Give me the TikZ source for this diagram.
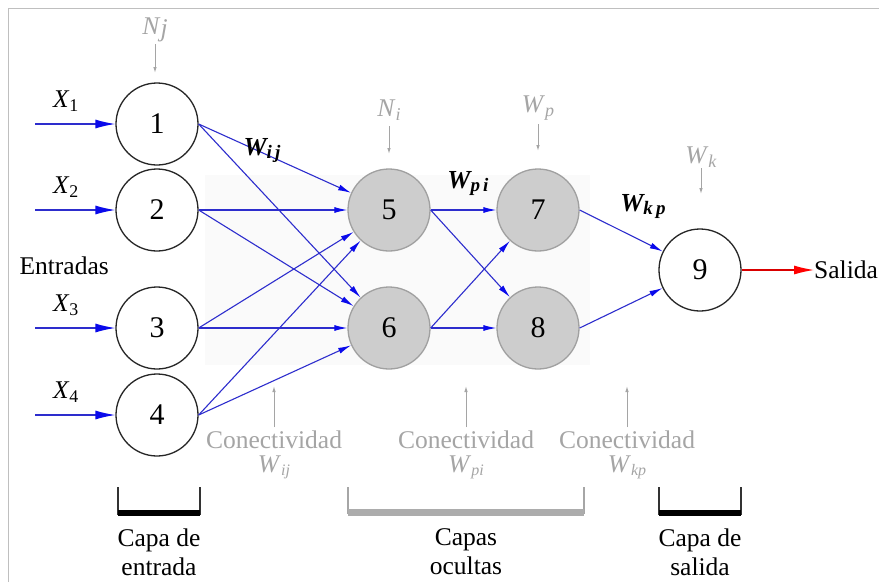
\documentclass[tikz,border=0pt]{standalone}
\usepackage{fontspec}
\setmainfont{Liberation Serif}
\usetikzlibrary{arrows.meta}
\definecolor{lnblue}{RGB}{45,45,205}
\definecolor{tipblue}{RGB}{10,10,235}
\definecolor{hidfill}{RGB}{205,205,205}
\definecolor{hidline}{RGB}{160,160,160}
\definecolor{lblgray}{RGB}{165,165,165}
\begin{document}
\begin{tikzpicture}[x=1pt,y=-1pt,
  every node/.style={font=\fontsize{25.5}{29}\selectfont},
  inode/.style={circle,draw=black!85,line width=1.3pt,fill=white,minimum size=82pt,inner sep=0pt,font=\fontsize{30}{32}\selectfont},
  hnode/.style={circle,draw=hidline,line width=1.3pt,fill=hidfill,minimum size=82pt,inner sep=0pt,font=\fontsize{30}{32}\selectfont},
  conn/.style={draw=lnblue,line width=1.1pt,-{Latex[length=13pt,width=6pt,color=tipblue]}},
  inarrow/.style={draw=lnblue,line width=1.3pt,-{Latex[length=20pt,width=9pt,color=tipblue]}},
  garrow/.style={draw=lblgray,line width=1pt,-{Latex[length=6pt,width=3.5pt]}},
  glabel/.style={text=lblgray,inner sep=0pt,font=\fontsize{25.5}{29}\selectfont},
  wlabel/.style={font=\fontsize{26}{29}\selectfont\bfseries\itshape}
]
\useasboundingbox (0,0) rectangle (879,582);
\fill[white] (0,0) rectangle (879,582);
% faint shading behind hidden layers
\fill[gray!4] (205,175) -- (590,175) -- (590,365) -- (205,365) -- cycle;
% frame lines
\draw[gray!50,line width=1pt] (8,582) -- (8,8) -- (879,8);

% nodes
\node[inode] (n1) at (157,124) {1};
\node[inode] (n2) at (157,210) {2};
\node[inode] (n3) at (157,328) {3};
\node[inode] (n4) at (157,415) {4};
\node[hnode] (n5) at (389,210) {5};
\node[hnode] (n6) at (389,328) {6};
\node[hnode] (n7) at (538,210) {7};
\node[hnode] (n8) at (538,328) {8};
\node[inode] (n9) at (700,270) {9};

% input arrows
\foreach \i/\y in {1/124,2/210,3/328,4/415}{
  \coordinate (s\i) at (35,\y);
  \draw[inarrow] (s\i) -- (n\i.west);
}
\node at (66,101) {\textit{X}\textsubscript{1}};
\node at (66,187) {\textit{X}\textsubscript{2}};
\node at (66,305) {\textit{X}\textsubscript{3}};
\node at (66,392) {\textit{X}\textsubscript{4}};
\node[anchor=west] (entr) at (16,266) {Entradas};

% connections input -> hidden 1
\foreach \a in {1,2,3,4}{
  \foreach \b in {5,6}{
    \draw[conn] (n\a.east) -- (n\b);
  }
}
% hidden 1 -> hidden 2
\foreach \a in {5,6}{
  \foreach \b in {7,8}{
    \draw[conn] (n\a.east) -- (n\b);
  }
}
% hidden 2 -> output
\draw[conn] (n7.east) -- (n9);
\draw[conn] (n8.east) -- (n9);
% output arrow
\coordinate (outend) at (814,270);
\draw[draw=red!85!black,line width=1.2pt,-{Latex[length=20pt,width=9pt,color=red]}] (n9.east) -- (outend);
\node[anchor=west,inner sep=0pt] (sal) at (outend) {Salida};

% weight labels
\node[wlabel] at (262,151) {W\raisebox{-3pt}{\fontsize{19}{21}\selectfont i\,j}};
\node[wlabel] at (468,184) {W\raisebox{-3pt}{\fontsize{19}{21}\selectfont p\,i}};
\node[wlabel] at (643,207) {W\raisebox{-3pt}{\fontsize{19}{21}\selectfont k\,p}};

% top gray labels and arrows
\node[glabel] (lNj) at (155,30) {\textit{N}\raisebox{-2pt}{\textit{j}}};
\coordinate (aNj) at (155,44); \coordinate (bNj) at (155,73);
\draw[garrow] (aNj) -- (bNj);
\node[glabel] (lNi) at (389,110) {\textit{N}\raisebox{-4pt}{\fontsize{18}{20}\selectfont\textit{i}}};
\coordinate (aNi) at (389,126); \coordinate (bNi) at (389,154);
\draw[garrow] (aNi) -- (bNi);
\node[glabel] (lWp) at (538,108) {\textit{W}\raisebox{-4pt}{\fontsize{18}{20}\selectfont\textit{p}}};
\coordinate (aWp) at (538,124); \coordinate (bWp) at (538,151);
\draw[garrow] (aWp) -- (bWp);
\node[glabel] (lWk) at (701,157) {\textit{W}\raisebox{-4pt}{\fontsize{18}{20}\selectfont\textit{k}}};
\coordinate (aWk) at (701,168); \coordinate (bWk) at (701,194);
\draw[garrow] (aWk) -- (bWk);

% connectivity labels
\foreach \x/\s/\n in {274/ij/c1,466/pi/c2,627/kp/c3}{
  \node[glabel] (\n) at (\x,440) {Conectividad};
  \node[glabel] at (\x,467) {\textit{W}\raisebox{-3pt}{\fontsize{16}{18}\selectfont\textit{\s}}};
  \coordinate (\n b) at (\x,427);
  \coordinate (\n t) at (\x,386);
  \draw[garrow] (\n b) -- (\n t);
}

% brackets
\draw[black!80,line width=1.2pt] (118,487) -- (118,514) -- (200,514) -- (200,487);
\fill[black] (118,510) rectangle (200,516);
\draw[gray!70,line width=1.2pt] (348,487) -- (348,513) -- (584,513) -- (584,487);
\fill[gray!65] (348,509) rectangle (584,516);
\draw[black!80,line width=1.2pt] (659,487) -- (659,514) -- (741,514) -- (741,487);
\fill[black] (659,510) rectangle (741,516);

\node[align=center] at (159,552) {Capa de\\entrada};
\node[align=center] at (466,552) {Capas\\ocultas};
\node[align=center] at (700,552) {Capa de\\salida};
\end{tikzpicture}
\end{document}
